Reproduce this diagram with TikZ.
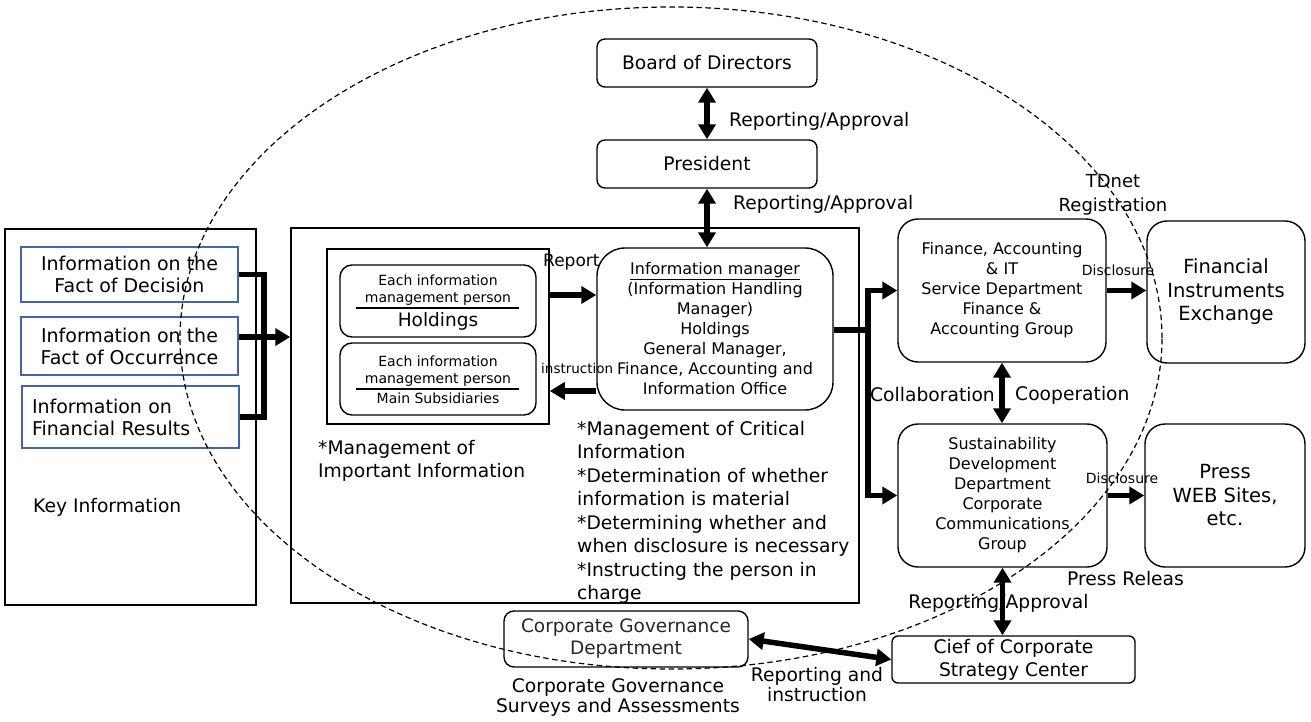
\documentclass[tikz,border=0pt]{standalone}
\usepackage{fontspec}
\setmainfont{DejaVu Sans}
\usetikzlibrary{arrows.meta,calc}
\definecolor{bbl}{RGB}{65,100,170}
\begin{document}
\begin{tikzpicture}[x=1pt,y=-1pt,
  every node/.style={inner sep=0pt, font=\fontsize{18.7}{23}\selectfont},
  box/.style={draw, line width=1.5pt, align=center},
  bbox/.style={draw=bbl, line width=1.5pt, align=center, font=\fontsize{19}{22}\selectfont},
  rbox/.style={draw, line width=1.4pt, align=center},
  small/.style={font=\fontsize{14}{17}\selectfont},
  arr/.style={line width=5.5pt, line join=miter, -{Triangle[length=15pt,width=17pt]}},
  darr/.style={line width=5.5pt, {Triangle[length=15pt,width=17pt]}-{Triangle[length=15pt,width=17pt]}},
  thk/.style={line width=5.5pt, line join=miter},
  ell/.style={line width=1.2pt, dash pattern=on 5.5pt off 3.5pt}
]
\useasboundingbox (0,0) rectangle (1311,722);

% ---- Key information block
\node[box, minimum width=251pt, minimum height=376pt] (key) at (130.5,417) {};
\node[anchor=west] (keylbl) at (33,507) {Key Information};
\node[bbox, minimum width=217pt, minimum height=55pt] (b1) at (129.5,274.5) {Information on the\\Fact of Decision};
\node[bbox, minimum width=217pt, minimum height=58pt] (b2) at (129.5,346) {Information on the\\Fact of Occurrence};
\node[bbox, text width=197pt, inner xsep=10pt, minimum height=62pt, align=left] (b3) at (130.5,417) {Information on\\Financial Results};

% ---- middle block
\node[box, minimum width=568pt, minimum height=375pt] (mid) at (575,415.5) {};
\node[box, minimum width=222pt, minimum height=175pt] (inner) at (438,336.5) {};
\node[rbox, rounded corners=12pt, minimum width=196pt, minimum height=72pt] (h1) at (438,301) {};
\node[small, align=center] (h1t) at (438,290.5) {Each information\\management person};
\node[font=\fontsize{18.5}{22}\selectfont] (h1h) at (438,321) {Holdings};
\draw[line width=1.2pt] ($(h1.west)+(17,7)$) coordinate (h1l) -- ($(h1.east)+(-18,7)$) coordinate (h1r);
\node[rbox, rounded corners=12pt, minimum width=196pt, minimum height=72pt] (h2) at (438,379) {};
\node[small, align=center] (h2t) at (438,371.5) {Each information\\management person};
\node[small] (h2s) at (438,398) {Main Subsidiaries};
\draw[line width=1.2pt] ($(h2.west)+(17,10)$) coordinate (h2l) -- ($(h2.east)+(-18,10)$) coordinate (h2r);

\node[rbox, rounded corners=28pt, minimum width=236pt, minimum height=162pt, font=\fontsize{16}{20}\selectfont] (im) at (715,329)
  {\underline{Information manager}\\(Information Handling\\Manager)\\Holdings\\General Manager,\\Finance, Accounting and\\Information Office};

\node[anchor=west, align=left] (imp) at (318,461) {*Management of\\Important Information};
\node[anchor=west, align=left, font=\fontsize{18.7}{23.5}\selectfont] (crit) at (577,512.5)
  {*Management of Critical\\Information\\*Determination of whether\\information is material\\*Determining whether and\\when disclosure is necessary\\*Instructing the person in\\charge};

\node[anchor=west, font=\fontsize{17}{20}\selectfont] (replbl) at (543,262) {Report};
\node[anchor=west, font=\fontsize{13.5}{16}\selectfont] (inslbl) at (541,368) {instruction};

% ---- top
\node[rbox, rounded corners=8pt, minimum width=220pt, minimum height=48pt] (bod) at (707,63) {Board of Directors};
\node[rbox, rounded corners=8pt, minimum width=220pt, minimum height=48pt] (pres) at (707,164) {President};
\node[anchor=west] (ra1) at (729,121) {Reporting/Approval};
\node[anchor=west] (ra2) at (733,204) {Reporting/Approval};

% ---- right side
\node[rbox, rounded corners=20pt, minimum width=208pt, minimum height=143pt, font=\fontsize{16}{20}\selectfont] (fin) at (1002,290.5)
  {Finance, Accounting\\\& IT\\Service Department\\Finance \&\\Accounting Group};
\node[rbox, rounded corners=20pt, minimum width=158pt, minimum height=142pt, font=\fontsize{19.5}{23.5}\selectfont] (fie) at (1226,292)
  {Financial\\Instruments\\Exchange};
\node[rbox, rounded corners=20pt, minimum width=209pt, minimum height=143pt, font=\fontsize{16}{20}\selectfont] (sust) at (1002.5,495.5)
  {Sustainability\\Development\\Department\\Corporate\\Communications\\Group};
\node[rbox, rounded corners=20pt, minimum width=160pt, minimum height=143pt, font=\fontsize{19.5}{23.5}\selectfont] (press) at (1225,495.5)
  {Press\\WEB Sites,\\etc.};
\node[rbox, rounded corners=6pt, minimum width=243pt, minimum height=47pt, font=\fontsize{18.7}{23}\selectfont] (cief) at (1013.5,659.5)
  {Cief of Corporate\\Strategy Center};
\node[rbox, rounded corners=10pt, minimum width=244pt, minimum height=56pt, font=\fontsize{18.5}{22}\selectfont, text=black!85] (cg) at (626,639)
  {Corporate Governance\\Department};

\node[align=center, font=\fontsize{18}{24}\selectfont] (tdnet) at (1113,195) {TDnet\\Registration};
\node[font=\fontsize{14}{16}\selectfont] (dis1) at (1118,270) {Disclosure};
\node[font=\fontsize{14}{16}\selectfont] (dis2) at (1122,478) {Disclosure};
\node[anchor=east] (collab) at (995,395) {Collaboration};
\node[anchor=west] (coop) at (1015,395) {Cooperation};
\node[anchor=west] (prel) at (1067,579) {Press Releas};
\node (ra3) at (998.5,603) {Reporting/Approval};
\node[align=center, font=\fontsize{18.7}{20}\selectfont] (rai) at (817,685) {Reporting and\\instruction};
\node[align=center, font=\fontsize{18.7}{20}\selectfont] (cgs) at (618,697) {Corporate Governance\\Surveys and Assessments};

% ---- connectors
\draw[thk] (b1.east) -- ++(25,0) |- (b3.east);
\draw[arr] ($(b2.east)+(0,-9)$) -- ($(mid.west)+(0,-78.5)$);
\draw[arr] (inner.east |- 0,295) -- (im.west |- 0,295);
\draw[arr] (im.west |- 0,391) -- (inner.east |- 0,391);
\draw[darr] (bod.south) -- (pres.north);
\draw[darr] (pres.south) -- (pres.south |- im.north);
\coordinate (junc) at (868,330);
\draw[thk] (im.east |- junc) -- (junc);
\draw[arr] (junc) |- (fin.west);
\draw[arr] (junc) |- (sust.west);
\draw[arr] (fin.east) -- (fie.west |- fin.east);
\draw[arr] (sust.east) -- (press.west |- sust.east);
\draw[darr] (fin.south) -- (fin.south |- sust.north);
\draw[darr] (sust.south) -- (sust.south |- cief.north);
\draw[darr] (cg.east) -- (cief.west);

% ---- dashed ellipse
\draw[ell] (671,338) ellipse [x radius=491pt, y radius=331pt];
\end{tikzpicture}
\end{document}
